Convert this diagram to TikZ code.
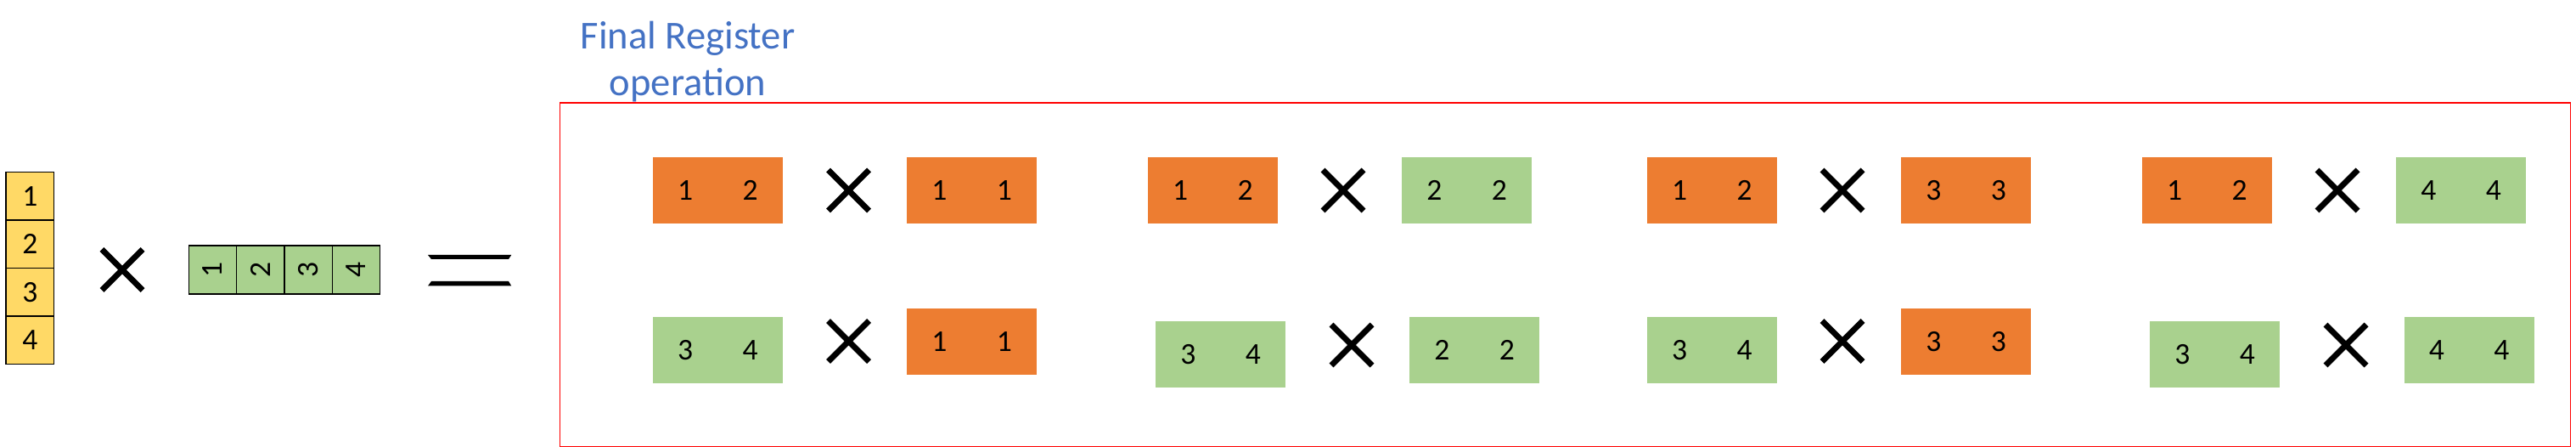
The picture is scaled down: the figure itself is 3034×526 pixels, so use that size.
\documentclass[tikz,border=0pt]{standalone}
\usepackage{fontspec}
\setmainfont{Carlito}
\usetikzlibrary{shapes.misc}
\definecolor{orng}{HTML}{ED7D31}
\definecolor{grn}{HTML}{A9D18E}
\definecolor{ylw}{HTML}{FFD966}
\definecolor{ttl}{HTML}{4472C4}
\tikzset{
  halfcell/.style={minimum width=76.5pt, minimum height=77.7pt, inner sep=0pt, anchor=north west,
    font=\fontsize{35.6}{40}\selectfont, text=black},
  og/.style={halfcell, fill=orng},
  gr/.style={halfcell, fill=grn},
  timesign/.style={cross out, draw=black, line width=7pt, minimum width=41pt, minimum height=41pt, inner sep=0pt},
  vcell/.style={draw=black, line width=1.2pt, fill=ylw, minimum width=56.7pt, minimum height=56.5pt, inner sep=0pt,
    font=\fontsize{35.5}{40}\selectfont},
  hcell/.style={draw=black, line width=1.2pt, fill=grn, minimum width=57pt, minimum height=56.4pt, inner sep=0pt,
    rotate=90, font=\fontsize{35.5}{40}\selectfont},
}
\newcommand\regpair[6]{%
  \node[#4] (#1a) at (#2,#3) {#5};
  \node[#4] (#1b) at (#2+76.5,#3) {#6};}
\begin{document}
\begin{tikzpicture}[x=1pt,y=-1pt]
\useasboundingbox (0,0) rectangle (3034,526);
% left column vector
\node[vcell] (y1) at (35.35,230.8) {1};
\node[vcell] (y2) at (35.35,287.3) {2};
\node[vcell] (y3) at (35.35,343.7) {3};
\node[vcell] (y4) at (35.35,400.2) {4};
\node[timesign] (xl) at (144,317.5) {};
% row vector
\node[hcell] (h1) at (250.3,317.5) {1};
\node[hcell] (h2) at (306.8,317.5) {2};
\node[hcell] (h3) at (363.2,317.5) {3};
\node[hcell] (h4) at (419.5,317.5) {4};
% equals
\fill[black] (504,300) -- (602.3,300) -- (599,305) -- (508,305) -- cycle;
\fill[black] (508,331) -- (599,331) -- (602.3,336.5) -- (504,336.5) -- cycle;
% frame
\node[draw=red, line width=1.5pt, minimum width=2368pt, minimum height=404pt, inner sep=0pt, anchor=north west] (frame) at (658.7,120.5) {};
\node[text=ttl, align=center, anchor=base, font=\fontsize{46.6}{55}\selectfont] (title) at (810,113) {Final Register\\operation};
% group 1
\regpair{a}{768.7}{185}{og}{1}{2}
\regpair{b}{1068}{185}{og}{1}{1}
\node[timesign] (x1) at (999.5,224) {};
\regpair{c}{768.7}{372.7}{gr}{3}{4}
\regpair{d}{1068}{362.7}{og}{1}{1}
\node[timesign] (x2) at (999.5,401.5) {};
% group 2
\regpair{e}{1351.7}{185}{og}{1}{2}
\regpair{f}{1651}{185}{gr}{2}{2}
\node[timesign] (x3) at (1582,224) {};
\regpair{g}{1361}{377.7}{gr}{3}{4}
\regpair{h}{1660}{372.7}{gr}{2}{2}
\node[timesign] (x4) at (1592,406) {};
% group 3
\regpair{i}{1939.7}{185}{og}{1}{2}
\regpair{j}{2239}{185}{og}{3}{3}
\node[timesign] (x5) at (2170,224) {};
\regpair{k}{1939.7}{372.7}{gr}{3}{4}
\regpair{l}{2239}{362.7}{og}{3}{3}
\node[timesign] (x6) at (2170,401.5) {};
% group 4
\regpair{m}{2522.7}{185}{og}{1}{2}
\regpair{n}{2822}{185}{gr}{4}{4}
\node[timesign] (x7) at (2753,224) {};
\regpair{o}{2532}{377.7}{gr}{3}{4}
\regpair{p}{2831.3}{372.7}{gr}{4}{4}
\node[timesign] (x8) at (2763,406) {};
\end{tikzpicture}
\end{document}
